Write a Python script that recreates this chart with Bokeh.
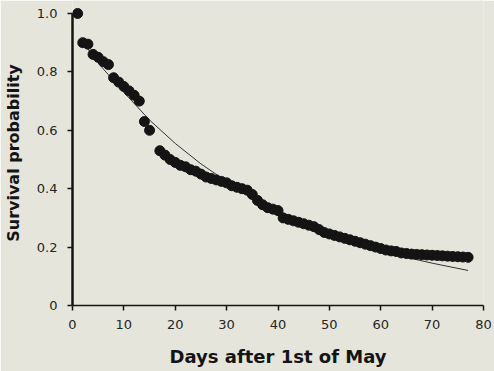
from bokeh.plotting import figure
from bokeh.models import Range1d, FixedTicker
from bokeh.embed import file_html
from bokeh.resources import INLINE

# Observed survival (one point per day after 1st of May)
days = [1, 2, 3, 4, 5, 6, 7, 8, 9, 10, 11, 12, 13, 14, 15,
        17, 18, 19, 20, 21, 22, 23, 24, 25, 26, 27, 28, 29, 30,
        31, 32, 33, 34, 35, 36, 37, 38, 39, 40, 41, 42, 43, 44, 45,
        46, 47, 48, 49, 50, 51, 52, 53, 54, 55, 56, 57, 58, 59, 60,
        61, 62, 63, 64, 65, 66, 67, 68, 69, 70, 71, 72, 73, 74, 75, 76, 77]
survival = [1.00, 0.90, 0.895, 0.86, 0.85, 0.835, 0.825, 0.78, 0.765, 0.75,
            0.735, 0.72, 0.70, 0.63, 0.60,
            0.53, 0.515, 0.50, 0.49, 0.48, 0.475, 0.465, 0.46, 0.45, 0.44,
            0.435, 0.43, 0.425, 0.42,
            0.41, 0.405, 0.40, 0.395, 0.38, 0.36, 0.345, 0.335, 0.33, 0.325,
            0.30, 0.295, 0.29, 0.285, 0.28,
            0.275, 0.27, 0.26, 0.25, 0.245, 0.24, 0.235, 0.23, 0.225, 0.22,
            0.215, 0.21, 0.205, 0.20, 0.195,
            0.19, 0.187, 0.185, 0.18, 0.178, 0.176, 0.175, 0.174, 0.173,
            0.172, 0.171, 0.170, 0.169, 0.168, 0.167, 0.166, 0.165]

# Fitted survival curve
fit_days = [1.5, 5, 10, 15, 20, 25, 30, 35, 40, 45, 50, 55, 60, 65, 70, 77]
fit_surv = [0.915, 0.83, 0.73, 0.635, 0.555, 0.485, 0.425, 0.37, 0.325,
            0.285, 0.245, 0.215, 0.19, 0.165, 0.145, 0.12]

x_ticks = [0, 10, 20, 30, 40, 50, 60, 70, 80]
y_ticks = [0, 0.2, 0.4, 0.6, 0.8, 1.0]
y_tick_labels = ["0", "0.2", "0.4", "0.6", "0.8", "1.0"]
x_title = "Days after 1st of May"
y_title = "Survival probability"

BG = "#e5e5db"
INK = "#141414"

W, H = 494, 371
LEFT, RIGHT, BOTTOM = 70, 11, 66
frame_h = H - BOTTOM  # frame top at canvas top
p = figure(width=W, height=H, output_backend="svg", toolbar_location=None,
           x_range=Range1d(0, 80), y_range=Range1d(0, frame_h / (frame_h - 13)),
           min_border_left=LEFT, min_border_right=RIGHT, min_border_top=0,
           min_border_bottom=BOTTOM,
           background_fill_color=BG, border_fill_color=BG)
p.outline_line_color = None
p.grid.visible = False

p.line(fit_days, fit_surv, line_color="#333333", line_width=1)
p.scatter(days, survival, size=10, fill_color=INK, line_color=INK)

for ax in (p.xaxis[0], p.yaxis[0]):
    ax.axis_line_color = INK
    ax.major_tick_line_color = INK
    ax.major_tick_line_width = 1.5
    ax.major_tick_in = 0
    ax.major_tick_out = 5
    ax.minor_tick_line_color = None
    ax.major_label_text_font = "DejaVu Sans"
    ax.major_label_text_font_size = "13px"
    ax.major_label_text_color = "#262626"
    ax.axis_label_text_font = "DejaVu Sans"
    ax.axis_label_text_font_style = "bold"
    ax.axis_label_text_color = INK

p.xaxis.ticker = FixedTicker(ticks=x_ticks)
p.xaxis.bounds = (0, 80)
p.xaxis.axis_line_width = 1.5
p.xaxis.major_label_standoff = 9
p.xaxis.axis_label = x_title
p.xaxis.axis_label_text_font_size = "18px"
p.xaxis.axis_label_standoff = 14

p.yaxis.ticker = FixedTicker(ticks=y_ticks)
p.yaxis.bounds = (0, 1.0)
p.yaxis.axis_line_width = 2.5
p.yaxis.major_label_overrides = {t: s for t, s in zip(y_ticks, y_tick_labels)}
p.yaxis.major_label_standoff = 10
p.yaxis.axis_label = y_title
p.yaxis.axis_label_text_font_size = "16px"
p.yaxis.axis_label_standoff = 11

open("out.html", "w").write(file_html(p, INLINE))
